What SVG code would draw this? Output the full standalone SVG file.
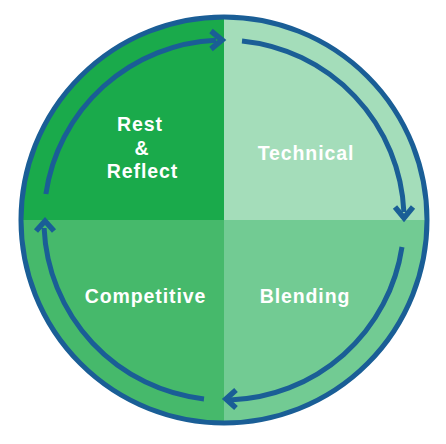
<svg xmlns="http://www.w3.org/2000/svg" width="446" height="444" viewBox="0 0 446 444">
<defs>
<style>
.lbl{font-family:"Liberation Sans",Arial,sans-serif;font-weight:700;font-size:19.5px;letter-spacing:0.9px;fill:#ffffff;text-anchor:middle}
.arc{fill:none;stroke:#1a5e96;stroke-width:5}
.head{fill:none;stroke:#1a5e96;stroke-width:5.5;stroke-linejoin:miter}
</style>
<clipPath id="c"><circle cx="224" cy="220" r="204"/></clipPath>
</defs>
<rect width="446" height="444" fill="#ffffff"/>
<g clip-path="url(#c)">
<g id="rest"><rect x="0" y="0" width="224" height="220" fill="#1aaa4b"/></g>
<g id="technical"><rect x="224" y="0" width="222" height="220" fill="#a4ddba"/></g>
<g id="blending"><rect x="224" y="220" width="222" height="224" fill="#72cb93"/></g>
<g id="competitive"><rect x="0" y="220" width="224" height="224" fill="#46b96b"/></g>
</g>
<circle cx="224" cy="220" r="203" fill="none" stroke="#1a5e96" stroke-width="5"/>
<g id="connectors">
<path class="arc" d="M242,41 A180,180 0 0 1 403.9,212"/>
<polyline class="head" points="395,207 404,218 413,207"/>
<path class="arc" d="M402,247 A180,180 0 0 1 230,399.9"/>
<polyline class="head" points="236,390 226,399 236,408"/>
<path class="arc" d="M204,398.9 A180,180 0 0 1 44.1,228"/>
<polyline class="head" points="36,231 45,221 54,231"/>
<path class="arc" d="M45.9,194 A180,180 0 0 1 216,40.2"/>
<polyline class="head" points="211,31 222,40 211,49"/>
</g>
<g id="labels">
<text class="lbl"><tspan x="140" y="131">Rest</tspan><tspan x="142" y="155">&amp;</tspan><tspan x="142.5" y="178">Reflect</tspan></text>
<text class="lbl" x="306" y="160">Technical</text>
<text class="lbl" x="145.5" y="303">Competitive</text>
<text class="lbl" x="305" y="303">Blending</text>
</g>
</svg>
